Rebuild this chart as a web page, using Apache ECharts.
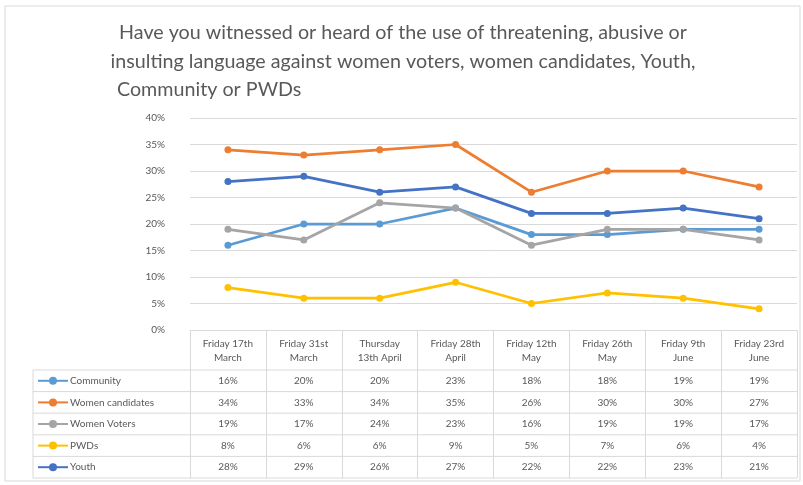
<!DOCTYPE html>
<html><head><meta charset="utf-8">
<script src="https://cdn.jsdelivr.net/npm/echarts@6/dist/echarts.min.js"></script>
<style>html,body{margin:0;padding:0;background:#fff}#c{width:803px;height:485px}</style>
</head><body><div id="c"></div>
<script>
var titleLines = ["Have you witnessed or heard of the use of threatening, abusive or",
  "insulting language against women voters, women candidates, Youth,",
  "Community or PWDs"];
var categories = ["Friday 17th\nMarch","Friday 31st\nMarch","Thursday\n13th April","Friday 28th\nApril","Friday 12th\nMay","Friday 26th\nMay","Friday 9th\nJune","Friday 23rd\nJune"];
var seriesNames = ["Community","Women candidates","Women Voters","PWDs","Youth"];
var community = [16,20,20,23,18,18,19,19];
var womenCandidates = [34,33,34,35,26,30,30,27];
var womenVoters = [19,17,24,23,16,19,19,17];
var pwds = [8,6,6,9,5,7,6,4];
var youth = [28,29,26,27,22,22,23,21];
var yTicks = [0,5,10,15,20,25,30,35,40];
var colors = ["#5B9BD5","#ED7D31","#A5A5A5","#FFC000","#4472C4"];
var allValues = [community, womenCandidates, womenVoters, pwds, youth];

var FONT = "Lato";
var TXT = "#595959";
var chart = echarts.init(document.getElementById('c'));
var tableTop = 330, headerH = 40, rowH = 21.6, tableLeft = 33, tableRight = 797;

var series = seriesNames.map(function(n,i){
  return {name:n, type:'line', data: allValues[i], color: colors[i], symbol:'circle', symbolSize:7,
    lineStyle:{width:2.75}, itemStyle:{color:colors[i]}, z: i===4?5:3};
});

chart.setOption({
  animation:false,
  grid:{left:190, right:803-tableRight, top:118, bottom:485-tableTop},
  xAxis:{type:'category', data:categories, boundaryGap:true,
    axisLine:{lineStyle:{color:'#D9D9D9'}},
    axisTick:{show:true, length: headerH + rowH*5, lineStyle:{color:'#D9D9D9'}},
    axisLabel:{color:TXT, fontFamily:FONT, fontSize:10, lineHeight:14, margin:7, interval:0}},
  yAxis:{type:'value', min:yTicks[0], max:yTicks[yTicks.length-1], interval:yTicks[1]-yTicks[0],
    axisLabel:{formatter:'{value}%', color:TXT, fontFamily:FONT, fontSize:10, margin:25},
    axisLine:{show:false}, axisTick:{show:false},
    splitLine:{lineStyle:{color:'#D9D9D9'}}},
  legend:{orient:'vertical', left:37, top: tableTop+headerH+rowH/2-5, padding:0, itemWidth:30, itemHeight:10, itemGap:rowH-10,
    textStyle:{color:TXT, fontFamily:FONT, fontSize:10, lineHeight:10, padding:[0,0,0,-3]}, data:seriesNames},
  series: series
});

var g = [];
g.push({type:'rect', shape:{x:5,y:6,width:795,height:475}, style:{fill:null, stroke:'#D9D9D9', lineWidth:1}, silent:true});
titleLines.forEach(function(t,i){
  g.push({type:'text', x: i<2?403:117, y: 33 + i*28.5, style:{text:t, fill:TXT, font:'19.7px '+FONT, textAlign: i<2?'center':'left', textVerticalAlign:'middle'}});
});
for (var r=0;r<=5;r++){
  var y = tableTop+headerH + r*rowH;
  g.push({type:'line', shape:{x1:tableLeft,y1:y,x2:tableRight,y2:y}, style:{stroke:'#D9D9D9', lineWidth:1}});
}
g.push({type:'line', shape:{x1:tableLeft,y1:tableTop+headerH,x2:tableLeft,y2:tableTop+headerH+5*rowH}, style:{stroke:'#D9D9D9', lineWidth:1}});
allValues.forEach(function(arr,si){
  arr.forEach(function(v,ci){
    var x = chart.convertToPixel({xAxisIndex:0}, ci);
    g.push({type:'text', x:x, y: tableTop+headerH + si*rowH + rowH/2,
      style:{text: v+'%', fill:TXT, font:'10px '+FONT, textAlign:'center', textVerticalAlign:'middle'}});
  });
});
chart.setOption({graphic:g});
</script></body></html>
